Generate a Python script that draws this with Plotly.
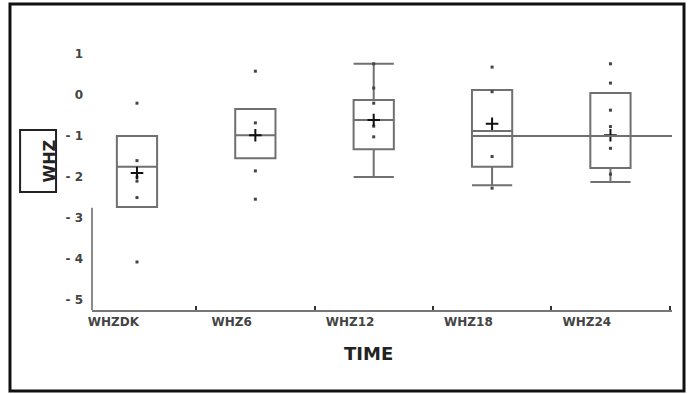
import plotly.graph_objects as go

# ---- data ----
categories = ["WHZDK", "WHZ6", "WHZ12", "WHZ18", "WHZ24"]
q1_vals = [-2.73, -1.54, -1.32, -1.75, -1.78]
median_vals = [-1.75, -0.98, -0.61, -0.88, -1.00]
q3_vals = [-1.00, -0.34, -0.12, 0.12, 0.05]
lower_vals = [-2.73, -1.54, -2.00, -2.20, -2.12]
upper_vals = [-1.00, -0.34, 0.76, 0.12, 0.05]
mean_vals = [-1.90, -0.98, -0.61, -0.70, -0.98]
points_whzdk = [-0.20, -1.60, -2.00, -2.10, -2.50, -4.07]
points_whz6 = [0.58, -0.68, -1.85, -2.54]
points_whz12 = [0.76, 0.17, -0.20, -0.76, -1.02]
points_whz18 = [0.68, 0.08, -1.50, -2.27]
points_whz24 = [0.76, 0.29, -0.37, -0.77, -1.30, -1.93]
ref_level = -1.0
y_tick_vals = [1, 0, -1, -2, -3, -4, -5]
y_tick_text = ["1", "0", "- 1", "- 2", "- 3", "- 4", "- 5"]

all_points = [points_whzdk, points_whz6, points_whz12, points_whz18, points_whz24]
positions = list(range(len(categories)))

fig = go.Figure()

for i, cat in enumerate(categories):
    fig.add_trace(go.Box(
        x=[positions[i]], q1=[q1_vals[i]], median=[median_vals[i]], q3=[q3_vals[i]],
        lowerfence=[lower_vals[i]], upperfence=[upper_vals[i]],
        name=cat, width=0.34, whiskerwidth=1, boxpoints=False,
        line=dict(color="#707070", width=2), fillcolor="rgba(0,0,0,0)",
    ))

px_, py_ = [], []
for i, pts in enumerate(all_points):
    px_ += [positions[i]] * len(pts)
    py_ += pts
fig.add_trace(go.Scatter(x=px_, y=py_, mode="markers",
                         marker=dict(symbol="square", size=3, color="#444"),
                         hoverinfo="y"))
fig.add_trace(go.Scatter(x=positions, y=mean_vals, mode="markers",
                         marker=dict(symbol="cross-thin", size=9,
                                     line=dict(color="#111", width=2)),
                         hoverinfo="y"))

# reference line from WHZ18 box edge to axis end
fig.add_shape(type="line", xref="x", yref="y", x0=positions[3] - 0.17, x1=4.52,
              y0=ref_level, y1=ref_level, line=dict(color="#707070", width=2))
# partial y axis line (as visible in the reference)
fig.add_shape(type="line", xref="paper", yref="y", x0=0, x1=0, y0=-2.75, y1=-5.24,
              line=dict(color="#8a8a8a", width=2))
# outer frame
fig.add_shape(type="rect", xref="paper", yref="paper",
              x0=-0.1414, x1=1.0207, y0=-0.30, y1=1.1333,
              line=dict(color="#111", width=3))
# WHZ title box
fig.add_shape(type="rect", xref="paper", yref="paper",
              x0=-0.124, x1=-0.062, y0=0.437, y1=0.667,
              line=dict(color="#222", width=2))
fig.add_annotation(text="WHZ", xref="paper", yref="paper", x=-0.093, y=0.552,
                   textangle=-90, showarrow=False,
                   font=dict(family="DejaVu Sans", size=16, color="#222", weight="bold"))
fig.add_annotation(text="TIME", xref="paper", yref="paper", x=0.476, y=-0.207,
                   showarrow=False,
                   font=dict(family="DejaVu Sans", size=18, color="#222", weight="bold"))

fig.update_layout(
    width=691, height=394,
    margin=dict(l=92, r=19, t=40, b=84, autoexpand=False),
    plot_bgcolor="white", paper_bgcolor="white",
    showlegend=False,
    xaxis=dict(range=[-0.38, 4.52], tickmode="array", automargin=False,
               tickvals=[p - 0.2 for p in positions], ticktext=categories,
               ticks="", showline=True, linecolor="#777", linewidth=2,
               showgrid=False, zeroline=False,
               tickfont=dict(family="DejaVu Sans", size=12, color="#444", weight="bold"),
               minor=dict(tickmode="array", tickvals=[0.5, 1.5, 2.5, 3.5, 4.5],
                          ticks="inside", ticklen=4, tickwidth=2, tickcolor="#333",
                          showgrid=False)),
    yaxis=dict(range=[-5.24, 1.34], tickmode="array", tickvals=y_tick_vals,
               automargin=False,
               ticktext=y_tick_text, ticks="", showline=False, showgrid=False,
               zeroline=False, ticklabelstandoff=8,
               tickfont=dict(family="DejaVu Sans", size=12, color="#444", weight="bold")),
)

fig.write_html("out.html", config={"displayModeBar": False},
               post_script="document.body.style.margin='0';document.body.style.overflow='hidden';")
